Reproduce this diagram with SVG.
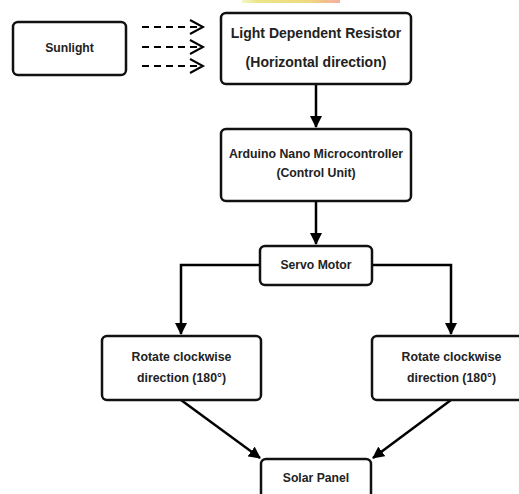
<svg xmlns="http://www.w3.org/2000/svg" width="519" height="494" viewBox="0 0 519 494">
<defs>
<linearGradient id="blob" x1="0" y1="0" x2="1" y2="0">
<stop offset="0" stop-color="#eef0a0" stop-opacity="0.6"/>
<stop offset="0.15" stop-color="#ece58a"/>
<stop offset="0.7" stop-color="#f0d880"/>
<stop offset="1" stop-color="#f09078" stop-opacity="0.7"/>
</linearGradient>
<marker id="ah" markerWidth="12" markerHeight="12" refX="11" refY="6" orient="auto" markerUnits="userSpaceOnUse">
<path d="M0,0 L12,6 L0,12 Z" fill="#000"/>
</marker>
</defs>
<style>
.box{fill:#fff;stroke:#111;stroke-width:2.5}
.t{font-family:"Liberation Sans",Arial,sans-serif;font-weight:bold;fill:#222;text-anchor:middle}
.c{fill:none;stroke:#000;stroke-width:2.5}
.d{fill:none;stroke:#000;stroke-width:2;stroke-dasharray:7 5}
.ch{fill:none;stroke:#000;stroke-width:2}
</style>
<rect width="519" height="494" fill="#fff"/>
<rect x="242" y="0" width="98" height="3" fill="url(#blob)"/>
<g id="connectors">
<path class="d" d="M142,27 H200"/>
<path class="d" d="M142,47 H200"/>
<path class="d" d="M142,66 H200"/>
<path class="ch" d="M190,20 L203,27 L190,34"/>
<path class="ch" d="M190,40 L203,47 L190,54"/>
<path class="ch" d="M190,59 L203,66 L190,73"/>
<path class="c" d="M316,84 V127" marker-end="url(#ah)"/>
<path class="c" d="M316,201 V244" marker-end="url(#ah)"/>
<path class="c" d="M260,265 H181 V334" marker-end="url(#ah)"/>
<path class="c" d="M372,265 H451 V334" marker-end="url(#ah)"/>
<path class="c" d="M181,400 L260,458" marker-end="url(#ah)"/>
<path class="c" d="M451,400 L373,458" marker-end="url(#ah)"/>
</g>
<g id="sunlight">
<rect class="box" x="13" y="22" width="113" height="53" rx="5"/>
<text class="t" x="69.5" y="52" font-size="12.2">Sunlight</text>
</g>
<g id="ldr">
<rect class="box" x="221" y="13" width="190" height="71" rx="5"/>
<text class="t" x="316" y="38" font-size="14">Light Dependent Resistor</text>
<text class="t" x="316" y="67" font-size="14">(Horizontal direction)</text>
</g>
<g id="arduino">
<rect class="box" x="221" y="129" width="190" height="72" rx="5"/>
<text class="t" x="316" y="158" font-size="12.3">Arduino Nano Microcontroller</text>
<text class="t" x="316" y="177" font-size="12.3">(Control Unit)</text>
</g>
<g id="servo">
<rect class="box" x="260" y="246" width="112" height="39" rx="5"/>
<text class="t" x="316" y="268.5" font-size="12.2">Servo Motor</text>
</g>
<g id="rotate-left">
<rect class="box" x="102" y="336" width="159" height="64" rx="5"/>
<text class="t" x="181.5" y="360.5" font-size="12.3">Rotate clockwise</text>
<text class="t" x="181.5" y="381.5" font-size="12.3">direction (180°)</text>
</g>
<g id="rotate-right">
<rect class="box" x="372" y="336" width="159" height="64" rx="5"/>
<text class="t" x="451.5" y="360.5" font-size="12.3">Rotate clockwise</text>
<text class="t" x="451.5" y="381.5" font-size="12.3">direction (180°)</text>
</g>
<g id="solar">
<rect class="box" x="261" y="459" width="110" height="50" rx="5"/>
<text class="t" x="316" y="481.5" font-size="12.2">Solar Panel</text>
</g>
</svg>
